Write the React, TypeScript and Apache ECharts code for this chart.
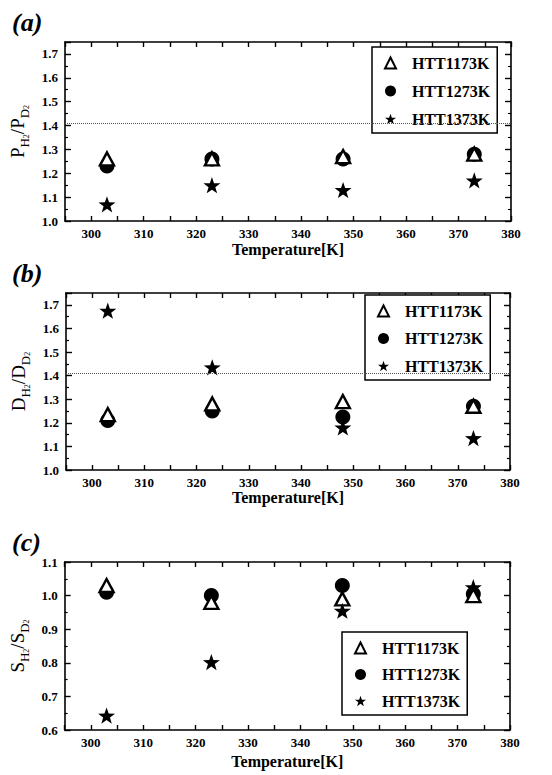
import React, { useEffect, useRef } from "react";
import * as echarts from "echarts";

const temps = [303, 323, 348, 373];
const seriesNames = ["HTT1173K", "HTT1273K", "HTT1373K"];

// Panel (a) P_H2/P_D2
const a1173 = [1.26, 1.26, 1.27, 1.28];
const a1273 = [1.23, 1.26, 1.26, 1.28];
const a1373 = [1.07, 1.15, 1.13, 1.17];
// Panel (b) D_H2/D_D2
const b1173 = [1.235, 1.28, 1.29, 1.27];
const b1273 = [1.21, 1.25, 1.225, 1.27];
const b1373 = [1.675, 1.435, 1.18, 1.135];
// Panel (c) S_H2/S_D2
const c1173 = [1.03, 0.98, 0.99, 1.0];
const c1273 = [1.01, 1.0, 1.03, 1.005];
const c1373 = [0.643, 0.802, 0.955, 1.025];

const refLine = 1.414;
const xTicks = [300, 310, 320, 330, 340, 350, 360, 370, 380];
const yRanges = [
  [1.0, 1.75],
  [1.0, 1.75],
  [0.6, 1.1],
];
const yNames = [
  ["P", "H", "P", "D"],
  ["D", "H", "D", "D"],
  ["S", "H", "S", "D"],
];
const panelLabels = ["(a)", "(b)", "(c)"];

const FONT = "Liberation Serif";
const STAR =
  "path://M12,0 L14.94,8.46 L23.9,8.65 L16.76,14.07 L19.35,22.65 L12,17.53 L4.65,22.65 L7.24,14.07 L0.1,8.65 L9.06,8.46 Z";

export default function App() {
  const ref = useRef<HTMLDivElement>(null);
  useEffect(() => {
    const chart = echarts.init(ref.current!, null, { renderer: "svg" });
    const grids = [
      { left: 65, top: 42, width: 446, height: 179 },
      { left: 66, top: 293, width: 444, height: 177 },
      { left: 63, top: 562, width: 447, height: 168 },
    ];
    const xNameGaps = [20, 19, 23];
    const legendPos = [
      { left: 372, top: 47 },
      { left: 365, top: 295 },
      { left: 342, top: 632 },
    ];
    const legendGaps = [12, 11.5, 10.5];
    const data = [
      [a1173, a1273, a1373],
      [b1173, b1273, b1373],
      [c1173, c1273, c1373],
    ];
    const axisLineStyle = { color: "#000", width: 1.6 };
    const xAxis: any[] = [];
    const yAxis: any[] = [];
    const series: any[] = [];
    const legend: any[] = [];
    const graphic: any[] = [];
    const isMult10 = (v: number) => Math.abs(v / 10 - Math.round(v / 10)) < 1e-6;
    const isTenth = (v: number) => Math.abs(v * 10 - Math.round(v * 10)) < 1e-6;

    grids.forEach((g, i) => {
      xAxis.push({
        type: "value",
        gridIndex: i,
        min: 295,
        max: 380,
        interval: 5,
        name: "Temperature[K]",
        nameLocation: "middle",
        nameGap: xNameGaps[i],
        nameTextStyle: { fontFamily: FONT, fontWeight: "bold", fontSize: 16, color: "#000" },
        axisLine: { show: true, onZero: false, lineStyle: axisLineStyle },
        axisTick: { show: true, inside: true, length: 5, lineStyle: { color: "#000", width: 1.4 } },
        axisLabel: {
          show: true,
          margin: 6,
          fontFamily: FONT,
          fontWeight: "bold",
          fontSize: 13,
          color: "#000",
          showMinLabel: true,
          showMaxLabel: true,
          formatter: (v: number) => (isMult10(v) && xTicks.includes(Math.round(v)) ? String(Math.round(v)) : ""),
        },
        splitLine: { show: false },
      });
      xAxis.push({
        type: "value",
        gridIndex: i,
        position: "top",
        min: 295,
        max: 380,
        interval: 5,
        axisLine: { show: true, onZero: false, lineStyle: axisLineStyle },
        axisTick: { show: true, inside: true, length: 5, lineStyle: { color: "#000", width: 1.4 } },
        axisLabel: { show: false },
        splitLine: { show: false },
      });
      const [ymin, ymax] = yRanges[i];
      const [A, sa, B, sb] = yNames[i];
      yAxis.push({
        type: "value",
        gridIndex: i,
        min: ymin,
        max: ymax,
        interval: 0.1,
        name: `{m|${A}}{s|${sa}}{t|2}{m|/${B}}{s|${sb}}{t|2}`,
        nameLocation: "middle",
        nameRotate: 90,
        nameGap: 30,
        nameTextStyle: {
          color: "#000",
          fontFamily: FONT,
          rich: {
            m: { fontFamily: FONT, fontSize: 19, color: "#000", verticalAlign: "middle", lineHeight: 24 },
            s: { fontFamily: FONT, fontSize: 13, color: "#000", verticalAlign: "bottom", lineHeight: 26 },
            t: { fontFamily: FONT, fontSize: 8, color: "#000", verticalAlign: "bottom", lineHeight: 24 },
          },
        },
        axisLine: { show: true, onZero: false, lineStyle: axisLineStyle },
        axisTick: { show: true, inside: true, length: 6, lineStyle: { color: "#000", width: 1.4 } },
        minorTick: { show: true, splitNumber: 2, length: 3, lineStyle: { color: "#000", width: 1.2 } },
        axisLabel: {
          show: true,
          margin: 7,
          fontFamily: FONT,
          fontWeight: "bold",
          fontSize: 13,
          color: "#000",
          formatter: (v: number) => (isTenth(v) ? v.toFixed(1) : ""),
        },
        splitLine: { show: false },
      });
      yAxis.push({
        type: "value",
        gridIndex: i,
        position: "right",
        min: ymin,
        max: ymax,
        interval: 0.1,
        axisLine: { show: true, onZero: false, lineStyle: axisLineStyle },
        axisTick: { show: true, inside: true, length: 6, lineStyle: { color: "#000", width: 1.4 } },
        minorTick: { show: true, splitNumber: 2, length: 3, lineStyle: { color: "#000", width: 1.2 } },
        axisLabel: { show: false },
        splitLine: { show: false },
      });
      const xi = i * 2;
      const yi = i * 2;
      const [d1173, d1273, d1373] = data[i];
      series.push({
        type: "scatter",
        name: seriesNames[1],
        xAxisIndex: xi,
        yAxisIndex: yi,
        symbol: "circle",
        symbolSize: 15,
        itemStyle: { color: "#000", opacity: 1 },
        z: 2,
        data: temps.map((t, k) => [t, d1273[k]]),
        markLine:
          i < 2
            ? {
                silent: true,
                symbol: ["none", "none"],
                label: { show: false },
                lineStyle: { type: "dotted", color: "#555", width: 1 },
                data: [{ yAxis: refLine }],
              }
            : undefined,
      });
      series.push({
        type: "scatter",
        name: seriesNames[0],
        xAxisIndex: xi,
        yAxisIndex: yi,
        symbol: "triangle",
        symbolSize: [14, 13],
        itemStyle: { color: "#fff", borderColor: "#000", borderWidth: 2.4, opacity: 1 },
        z: 3,
        data: temps.map((t, k) => [t, d1173[k]]),
      });
      series.push({
        type: "scatter",
        name: seriesNames[2],
        xAxisIndex: xi,
        yAxisIndex: yi,
        symbol: STAR,
        symbolSize: 17,
        symbolKeepAspect: true,
        itemStyle: { color: "#000", opacity: 1 },
        z: 4,
        data: temps.map((t, k) => [t, d1373[k]]),
      });
      legend.push({
        show: true,
        orient: "vertical",
        left: legendPos[i].left,
        top: legendPos[i].top,
        data: [seriesNames[0], seriesNames[1], seriesNames[2]],
        backgroundColor: "#fff",
        borderColor: "#000",
        borderWidth: 1.5,
        borderRadius: 0,
        padding: [8, 7, 6, 12],
        itemWidth: 11,
        itemHeight: 11,
        itemGap: legendGaps[i],
        selectedMode: false,
        inactiveColor: "#000",
        textStyle: {
          fontFamily: FONT,
          fontWeight: "bold",
          fontSize: 16,
          color: "#000",
          padding: [0, 0, 0, 11],
        },
      });
      graphic.push({
        type: "text",
        left: 12,
        top: g.top - 33,
        style: {
          text: panelLabels[i],
          font: `italic bold 26px ${FONT}`,
          fill: "#000",
        },
      });
    });

    chart.setOption({
      animation: false,
      backgroundColor: "#fff",
      textStyle: { fontFamily: FONT },
      grid: grids.map((g) => ({ ...g, show: false, containLabel: false })),
      xAxis,
      yAxis,
      series,
      legend,
      graphic,
    });
    return () => chart.dispose();
  }, []);
  return (
    <div
      ref={ref}
      style={{ position: "fixed", left: 0, top: 0, width: 552, height: 775, background: "#fff" }}
    />
  );
}
